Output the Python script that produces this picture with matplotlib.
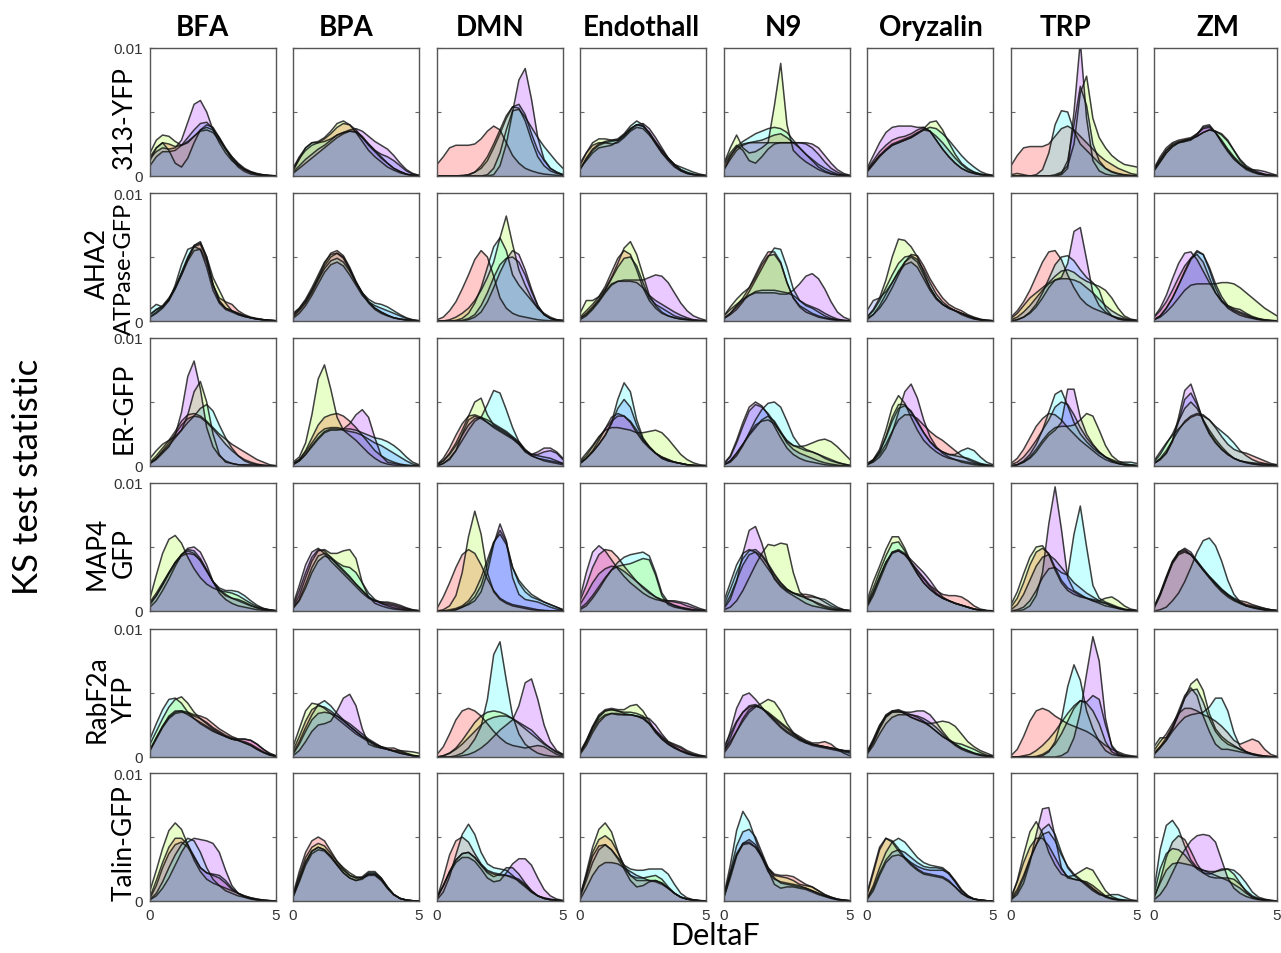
import numpy as np
import matplotlib
matplotlib.use("Agg")
import matplotlib.pyplot as plt

# density values (x 1e-3) at DeltaF = 0, 0.25, ..., 5 ; order per panel: red, green, cyan, purple, blue
xgrid = [0, 0.25, 0.5, 0.75, 1, 1.25, 1.5, 1.75, 2, 2.25, 2.5, 2.75, 3, 3.25, 3.5, 3.75, 4, 4.25, 4.5, 4.75, 5]

drugs = ["BFA", "BPA", "DMN", "Endothall", "N9", "Oryzalin", "TRP", "ZM"]
lines = [["313-YFP"], ["AHA2", "ATPase-GFP"], ["ER-GFP"], ["MAP4", "GFP"], ["RabF2a", "YFP"], ["Talin-GFP"]]

# ---- 313-YFP
yfp313_bfa = [
    [1.5,2.2,2.6,2.5,2.3,2.4,2.7,3.1,3.5,3.6,3.4,2.8,2.1,1.5,1.0,0.6,0.35,0.2,0.1,0.05,0.02],
    [1.8,2.8,3.2,3.1,2.7,2.4,2.6,3.1,3.6,3.8,3.6,3.0,2.2,1.5,0.9,0.5,0.25,0.12,0.06,0.03,0.01],
    [1.2,2.2,2.6,2.0,1.0,0.7,1.4,2.6,3.6,4.0,3.8,3.0,2.1,1.3,0.7,0.35,0.15,0.07,0.03,0.01,0],
    [1.4,1.9,2.2,2.1,2.2,2.8,4.2,5.6,5.9,5.0,3.6,2.6,1.8,1.2,0.8,0.5,0.3,0.15,0.08,0.03,0.01],
    [0.8,1.5,1.9,1.9,2.0,2.4,3.0,3.6,4.1,4.2,3.7,2.9,2.1,1.4,0.9,0.5,0.3,0.15,0.08,0.03,0.01]]
yfp313_bpa = [
    [0.5,1.4,2.0,2.4,2.6,2.9,3.3,3.8,4.1,4.0,3.6,3.0,2.4,1.9,1.4,1.0,0.6,0.35,0.15,0.05,0.02],
    [0.6,1.5,2.2,2.6,2.7,3.0,3.5,4.1,4.3,4.0,3.4,2.7,2.0,1.5,1.1,0.7,0.45,0.25,0.12,0.05,0.02],
    [0.4,1.3,2.2,2.6,2.6,2.7,2.9,3.2,3.4,3.5,3.4,3.0,2.5,2.0,1.5,1.0,0.6,0.35,0.15,0.05,0.02],
    [0.3,0.8,1.3,1.7,2.1,2.4,2.8,3.2,3.4,3.6,3.7,3.5,3.1,2.7,2.4,2.1,1.6,1.0,0.5,0.2,0.05],
    [0.2,0.6,1.0,1.4,1.8,2.2,2.6,3.0,3.3,3.5,3.5,3.1,2.5,2.0,1.7,1.5,1.2,0.8,0.4,0.15,0.05]]
yfp313_dmn = [
    [0.9,1.5,2.2,2.4,2.4,2.4,2.5,2.9,3.5,3.9,3.6,2.6,1.6,1.0,0.6,0.4,0.25,0.15,0.1,0.05,0.02],
    [0,0,0,0,0,0.1,0.3,0.8,1.5,2.5,3.6,4.7,5.4,5.3,4.3,2.8,1.5,0.8,0.4,0.2,0.1],
    [0,0,0,0,0,0,0,0,0.1,0.6,1.8,3.6,5.1,5.2,4.6,3.8,3.0,2.3,1.7,1.1,0.6],
    [0,0,0,0,0,0,0,0,0,0.1,0.8,2.5,5.0,7.5,8.4,6.0,3.0,1.3,0.6,0.3,0.1],
    [0,0,0,0,0.05,0.1,0.3,0.6,1.2,2.2,3.3,4.5,5.4,5.6,4.8,3.3,2.0,1.2,0.6,0.3,0.1]]
yfp313_endo = [
    [1.0,1.8,2.4,2.6,2.6,2.5,2.6,3.0,3.5,3.8,3.7,3.2,2.6,2.0,1.4,0.9,0.5,0.25,0.12,0.05,0.02],
    [0.8,1.8,2.6,2.9,2.9,2.8,2.8,3.2,3.7,4.0,3.9,3.4,2.6,1.8,1.2,0.7,0.4,0.2,0.1,0.05,0.02],
    [0.5,1.4,2.1,2.5,2.7,2.8,2.9,3.3,3.9,4.3,4.0,3.3,2.5,1.8,1.3,0.9,0.7,0.5,0.3,0.15,0.05],
    [0.6,1.2,1.8,2.2,2.3,2.4,2.7,3.1,3.6,4.0,4.1,3.7,3.0,2.2,1.4,0.8,0.4,0.2,0.1,0.05,0.02],
    [0.5,1.3,2.0,2.4,2.6,2.7,2.8,3.2,3.7,4.0,3.9,3.4,2.7,2.0,1.4,0.9,0.5,0.3,0.15,0.07,0.03]]
yfp313_n9 = [
    [0.8,1.6,2.2,2.5,2.6,2.7,2.8,3.0,3.2,3.3,3.0,2.6,2.2,1.7,1.2,0.7,0.4,0.2,0.1,0.05,0.02],
    [1.0,2.2,3.2,2.2,1.8,1.9,2.2,2.6,5.5,8.8,4.0,2.0,1.5,1.1,0.8,0.5,0.3,0.15,0.07,0.03,0.01],
    [0.5,1.5,2.3,2.7,3.0,3.3,3.5,3.7,3.8,3.7,3.4,2.8,2.2,1.7,1.3,0.9,0.6,0.35,0.15,0.05,0.02],
    [1.0,1.8,2.4,2.0,1.2,1.0,1.5,2.1,2.5,2.6,2.6,2.6,2.6,2.6,2.5,2.2,1.6,1.0,0.5,0.2,0.05],
    [0.5,1.3,2.0,2.4,2.6,2.6,2.6,2.6,2.6,2.6,2.6,2.6,2.6,2.5,2.2,1.7,1.1,0.6,0.3,0.1,0.03]]
yfp313_ory = [
    [0.5,1.2,1.9,2.4,2.8,3.0,3.1,3.3,3.6,3.8,3.5,2.8,2.1,1.5,1.0,0.6,0.35,0.2,0.1,0.05,0.02],
    [0.4,1.0,1.6,2.0,2.4,2.6,2.8,3.0,3.3,3.7,4.2,4.3,3.6,2.6,1.7,1.0,0.6,0.3,0.15,0.07,0.03],
    [0.3,0.9,1.5,2.0,2.4,2.6,2.8,3.0,3.3,3.6,3.8,3.7,3.3,2.8,2.2,1.6,1.1,0.7,0.35,0.15,0.05],
    [0.6,1.6,2.6,3.4,3.8,3.9,3.9,3.9,3.8,3.8,3.5,2.8,2.1,1.5,1.0,0.6,0.35,0.2,0.1,0.05,0.02],
    [0.4,1.0,1.6,2.1,2.5,2.7,2.9,3.1,3.4,3.6,3.5,3.1,2.6,2.0,1.4,0.9,0.5,0.3,0.15,0.07,0.03]]
yfp313_trp = [
    [0.8,1.6,2.2,2.3,2.3,2.3,2.5,3.1,3.7,3.9,3.6,3.1,2.6,2.1,1.6,1.2,0.9,0.6,0.4,0.2,0.1],
    [0.1,0.2,0.1,0,0,0,0,0.1,0.3,0.8,2.5,6.5,7.8,4.5,3.0,2.2,1.6,1.2,0.9,0.8,0.7],
    [0,0,0,0,0.1,0.5,1.8,4.0,5.1,5.0,3.5,2.5,2.0,1.5,1.0,0.6,0.35,0.2,0.1,0.05,0.02],
    [0,0,0,0,0,0,0,0,0.1,0.6,5.0,10.5,4.5,1.2,0.4,0.15,0.05,0.02,0,0,0],
    [0,0,0,0,0,0,0,0,0.2,1.2,4.0,7.0,5.5,2.5,1.2,0.6,0.3,0.15,0.07,0.03,0.01]]
yfp313_zm = [
    [0.6,1.5,2.2,2.6,2.8,2.9,3.0,3.3,3.7,3.8,3.4,2.8,2.1,1.5,1.0,0.6,0.35,0.2,0.1,0.05,0.02],
    [0.5,1.3,2.0,2.5,2.7,2.8,2.9,3.1,3.4,3.6,3.5,3.3,2.8,2.0,1.2,0.7,0.4,0.2,0.1,0.05,0.02],
    [0.5,1.3,2.0,2.4,2.6,2.8,2.9,3.1,3.4,3.6,3.5,3.2,2.7,2.0,1.3,0.8,0.5,0.3,0.15,0.07,0.03],
    [0.4,1.1,1.8,2.3,2.6,2.7,2.8,3.2,3.9,4.0,3.4,2.6,1.9,1.3,0.9,0.6,0.5,0.45,0.35,0.2,0.05],
    [0.4,1.1,1.8,2.3,2.6,2.7,2.9,3.3,3.8,3.9,3.4,2.7,2.0,1.4,0.9,0.5,0.3,0.15,0.07,0.03,0.01]]

# ---- AHA2 ATPase-GFP
aha2_bfa = [
    [0.3,0.6,1.0,1.6,2.5,3.6,4.8,5.8,6.0,4.8,2.8,1.8,1.5,1.3,0.8,0.5,0.3,0.2,0.1,0.05,0.02],
    [0.5,0.9,1.2,1.8,2.6,3.8,5.0,5.9,6.1,5.0,3.4,2.4,1.4,0.8,0.5,0.35,0.25,0.15,0.1,0.05,0.02],
    [0.9,1.3,1.1,1.6,2.8,4.4,5.6,5.8,5.6,4.2,2.4,1.4,0.9,0.7,0.5,0.35,0.25,0.15,0.1,0.05,0.02],
    [0.3,0.7,1.1,1.7,2.6,3.7,4.9,5.9,6.2,5.0,2.9,1.5,1.0,0.8,0.6,0.4,0.25,0.15,0.1,0.05,0.02],
    [0.5,0.9,1.1,1.7,2.6,3.6,4.7,5.5,5.6,4.6,2.8,1.6,1.0,0.8,0.6,0.4,0.25,0.15,0.1,0.05,0.02]]
aha2_bpa = [
    [0.4,0.9,1.5,2.4,3.4,4.5,5.3,5.5,5.1,4.2,3.1,2.2,1.5,1.0,0.7,0.45,0.25,0.15,0.08,0.03,0.01],
    [0.5,1.0,1.7,2.6,3.6,4.6,5.2,5.3,4.9,4.0,3.0,2.2,1.5,1.0,0.7,0.45,0.25,0.15,0.08,0.03,0.01],
    [0.3,0.8,1.4,2.2,3.2,4.1,4.7,4.9,4.6,3.9,3.0,2.2,1.7,1.4,1.3,1.1,0.8,0.5,0.25,0.1,0.03],
    [0.6,1.0,1.6,2.4,3.3,4.3,5.0,5.3,5.0,4.1,3.0,2.1,1.4,0.9,0.6,0.4,0.25,0.15,0.08,0.03,0.01],
    [0.2,0.6,1.2,2.0,2.9,3.8,4.4,4.6,4.3,3.6,2.8,2.0,1.5,1.2,1.0,0.8,0.6,0.4,0.2,0.08,0.02]]
aha2_dmn = [
    [0.1,0.3,0.8,1.5,2.5,3.6,4.8,5.5,5.0,3.5,1.8,1.0,0.6,0.4,0.3,0.2,0.1,0.05,0.02,0,0],
    [0,0,0.1,0.3,0.6,1.0,1.6,2.4,3.4,4.6,6.5,8.2,6.0,4.0,2.8,1.8,1.0,0.5,0.2,0.1,0.05],
    [0,0,0,0.05,0.2,0.6,1.4,2.6,4.2,5.8,6.5,5.5,3.6,2.8,2.2,1.6,1.0,0.6,0.3,0.1,0.05],
    [0,0,0,0,0,0.1,0.3,0.7,1.5,2.6,3.8,4.8,5.5,5.2,4.0,2.5,1.2,0.5,0.2,0.05,0],
    [0,0,0,0,0.05,0.2,0.5,1.2,2.2,3.4,4.4,4.9,5.0,4.6,3.6,2.3,1.2,0.5,0.2,0.05,0]]
aha2_endo = [
    [0.3,0.8,1.3,1.9,2.7,3.8,4.9,5.5,5.2,4.0,2.6,1.6,1.0,0.6,0.4,0.25,0.15,0.1,0.05,0.02,0],
    [0.6,1.6,1.6,1.9,2.5,3.4,4.5,5.7,6.2,5.2,3.6,2.0,1.2,0.7,0.4,0.25,0.15,0.1,0.05,0.02,0],
    [0.2,0.6,1.1,1.7,2.4,3.3,4.2,4.9,5.0,4.3,3.0,1.8,1.3,1.0,0.7,0.4,0.25,0.15,0.07,0.03,0],
    [0.1,0.4,0.9,1.5,2.2,2.8,3.1,3.2,3.2,3.2,3.2,3.4,3.6,3.5,3.0,2.2,1.4,0.8,0.4,0.2,0.05],
    [0.2,0.5,1.0,1.6,2.3,2.9,3.1,3.1,3.1,3.0,2.6,2.0,1.6,1.3,1.0,0.7,0.45,0.25,0.1,0.05,0.02]]
aha2_n9 = [
    [0.2,0.6,1.2,1.8,2.6,3.6,4.6,5.4,5.4,4.6,3.0,1.8,1.2,0.9,0.6,0.4,0.25,0.15,0.08,0.03,0.01],
    [0.4,1.1,1.7,2.2,2.6,3.4,4.4,5.1,5.2,4.5,3.0,1.8,1.1,0.7,0.5,0.3,0.2,0.1,0.05,0.02,0.01],
    [0.2,0.5,0.9,1.5,2.3,3.2,4.1,5.0,5.7,5.6,4.2,2.5,1.6,1.2,1.0,0.7,0.4,0.2,0.1,0.05,0.02],
    [0.4,0.9,1.3,1.7,2.0,2.2,2.2,2.2,2.2,2.1,2.1,2.4,2.9,3.5,3.7,3.3,2.5,1.5,0.7,0.3,0.1],
    [0.2,0.6,1.1,1.6,2.0,2.3,2.4,2.4,2.4,2.3,2.2,2.0,1.6,1.3,1.1,0.9,0.6,0.35,0.15,0.05,0.02]]
aha2_ory = [
    [0.2,0.5,1.0,1.7,2.6,3.6,4.6,5.2,5.1,4.3,3.3,2.5,1.8,1.3,1.0,0.8,0.5,0.3,0.15,0.05,0.02],
    [0.3,0.9,1.8,3.2,5.0,6.4,6.3,5.8,5.0,3.8,2.6,1.8,1.3,1.0,0.8,0.6,0.4,0.25,0.1,0.05,0.02],
    [0.3,0.8,1.6,2.6,3.6,4.5,5.0,5.1,4.8,4.0,3.0,2.1,1.5,1.1,0.8,0.6,0.4,0.2,0.1,0.05,0.02],
    [0.1,0.5,1.2,2.1,3.0,3.9,4.6,5.0,4.6,3.6,2.6,1.8,1.3,1.0,0.8,0.6,0.4,0.2,0.1,0.05,0.02],
    [0.8,1.6,1.8,2.3,3.0,3.8,4.4,4.6,4.2,3.3,2.4,1.7,1.3,1.0,0.8,0.5,0.3,0.15,0.07,0.03,0.01]]
aha2_trp = [
    [0.3,0.8,1.5,2.4,3.5,4.6,5.4,5.5,4.8,3.6,2.6,1.8,1.3,1.0,0.8,0.6,0.4,0.25,0.15,0.05,0.02],
    [0.2,0.6,1.2,1.8,2.2,2.6,3.0,3.5,3.9,4.0,3.8,3.4,3.1,2.9,2.7,2.4,1.8,1.0,0.4,0.15,0.05],
    [0,0.1,0.3,0.7,1.3,2.2,3.3,4.4,5.0,5.1,4.7,4.0,3.4,3.0,2.4,1.0,0.4,0.15,0.05,0.02,0],
    [0,0.1,0.3,0.6,1.1,1.8,2.6,3.2,3.4,4.5,7.0,7.3,4.8,2.2,1.2,0.7,0.4,0.2,0.1,0.05,0.02],
    [0.1,0.3,0.7,1.2,1.8,2.4,2.9,3.2,3.3,3.3,3.2,3.0,2.6,2.2,1.7,1.2,0.8,0.5,0.25,0.1,0.05]]
aha2_zm = [
    [0.3,0.8,1.5,2.4,3.4,4.3,4.9,5.2,4.6,3.4,2.2,1.5,1.1,0.8,0.6,0.4,0.25,0.15,0.07,0.03,0.01],
    [0.1,0.3,0.7,1.2,1.8,2.4,2.8,2.9,2.9,2.9,2.9,3.0,3.0,2.9,2.6,2.2,1.8,1.4,1.0,0.7,0.4],
    [0.1,0.4,1.0,1.8,2.8,3.9,4.9,5.5,5.2,4.0,2.6,1.6,1.0,0.7,0.45,0.3,0.2,0.1,0.05,0.02,0],
    [0.3,1.0,2.0,3.3,4.5,5.3,5.4,4.8,3.9,3.0,2.2,1.6,1.2,1.0,0.9,0.6,0.35,0.2,0.1,0.05,0.02],
    [0.1,0.4,1.0,1.8,2.8,3.8,4.8,5.4,5.2,4.2,2.9,1.9,1.2,0.9,0.7,0.5,0.3,0.15,0.07,0.03,0.01]]

# ---- ER-GFP
er_bfa = [
    [0.3,0.8,1.4,2.0,2.7,3.5,4.0,4.1,3.9,3.5,3.0,2.5,2.1,1.7,1.4,1.1,0.8,0.5,0.3,0.1,0.03],
    [0.6,1.2,1.7,2.0,2.3,2.8,4.0,5.8,6.6,5.0,2.5,0.9,0.3,0.2,0.1,0.05,0.02,0,0,0,0],
    [0.2,0.6,1.1,1.6,2.2,2.8,3.4,3.9,4.5,4.8,4.3,3.2,2.2,1.4,0.8,0.4,0.2,0.1,0.05,0.02,0],
    [0.2,0.5,1.0,1.5,2.4,4.2,7.0,8.2,6.0,3.0,1.5,0.8,0.4,0.2,0.1,0.1,0.1,0.05,0.02,0,0],
    [0.2,0.6,1.2,1.8,2.5,3.2,3.7,3.9,3.8,3.4,2.9,2.3,1.7,1.2,0.8,0.5,0.3,0.15,0.07,0.03,0.01]]
er_bpa = [
    [0.2,0.5,1.2,2.2,3.2,3.8,4.0,4.1,3.9,3.5,3.0,2.4,1.8,1.2,0.8,0.5,0.3,0.15,0.07,0.03,0.01],
    [0.3,0.7,1.8,4.0,6.8,7.9,6.0,3.8,2.8,2.4,2.0,1.5,1.0,0.6,0.3,0.15,0.07,0.03,0.01,0,0],
    [0.2,0.5,1.1,1.8,2.5,2.9,3.0,3.0,2.9,2.9,2.8,2.6,2.4,2.2,2.1,1.9,1.6,1.2,0.7,0.3,0.1],
    [0.1,0.4,0.9,1.5,2.1,2.6,2.8,2.8,2.9,3.3,4.0,4.4,3.8,2.2,0.8,0.3,0.2,0.1,0.05,0.02,0],
    [0.1,0.4,0.9,1.6,2.2,2.7,2.9,2.9,2.8,2.7,2.6,2.4,2.1,1.8,1.6,1.3,1.0,0.7,0.4,0.15,0.05]]
er_dmn = [
    [0.1,0.6,1.4,2.4,3.3,3.9,4.0,3.8,3.4,3.0,2.7,2.4,2.1,1.7,1.2,0.8,0.6,0.5,0.4,0.3,0.2],
    [0.1,0.4,1.0,1.8,2.8,3.9,5.0,5.3,4.0,3.2,2.9,2.6,2.2,1.7,1.1,0.8,0.6,0.4,0.3,0.2,0.1],
    [0,0.2,0.6,1.2,2.0,2.8,3.5,3.8,4.8,5.9,5.7,4.4,3.0,1.9,1.2,0.9,0.8,0.7,0.6,0.4,0.2],
    [0,0.2,0.5,1.2,2.5,3.6,3.9,3.7,3.4,3.1,2.8,2.5,2.2,1.8,1.2,0.9,1.1,1.4,1.4,1.1,0.6],
    [0.1,0.4,0.9,1.6,2.4,3.2,3.7,3.8,3.6,3.3,3.0,2.7,2.3,1.9,1.3,0.9,0.9,1.1,1.2,1.0,0.5]]
er_endo = [
    [0.3,0.8,1.5,2.2,2.9,3.5,3.9,3.9,3.5,2.8,2.0,1.5,1.0,0.7,0.5,0.3,0.2,0.1,0.05,0.02,0],
    [0.4,1.0,1.6,2.3,2.8,3.0,3.0,2.9,2.8,2.6,2.6,2.7,2.8,2.6,2.1,1.5,0.9,0.5,0.25,0.1,0.05],
    [0.2,0.6,1.1,1.7,2.4,3.4,5.2,6.5,5.8,3.6,2.2,1.5,1.0,0.6,0.4,0.3,0.2,0.1,0.05,0.02,0],
    [0.2,0.6,1.2,2.0,2.9,3.8,4.1,3.9,3.4,2.6,1.9,1.4,1.0,0.7,0.5,0.3,0.2,0.1,0.05,0.02,0],
    [0.2,0.6,1.1,1.7,2.4,3.3,4.5,5.2,4.6,3.2,2.1,1.5,1.0,0.6,0.4,0.3,0.2,0.1,0.05,0.02,0]]
er_n9 = [
    [0.1,0.4,1.0,1.7,2.5,3.2,3.5,3.6,3.3,2.6,2.0,1.6,1.4,1.2,1.1,0.9,0.6,0.4,0.25,0.15,0.05],
    [0.1,0.4,1.0,1.7,2.4,3.0,3.6,3.9,3.5,2.7,1.9,1.6,1.5,1.6,1.8,2.0,2.1,1.9,1.5,1.0,0.5],
    [0.1,0.3,0.8,1.6,2.6,3.6,4.4,4.9,5.0,4.6,3.5,2.3,1.6,1.3,1.1,0.9,0.7,0.5,0.3,0.15,0.05],
    [0.2,0.8,2.0,3.4,4.6,5.0,4.7,4.0,3.1,2.2,1.4,0.9,0.6,0.4,0.3,0.2,0.1,0.05,0.02,0,0],
    [0.2,0.7,1.8,3.1,4.3,4.8,4.6,4.1,3.4,2.6,1.8,1.3,1.0,0.8,0.6,0.4,0.25,0.15,0.07,0.03,0.01]]
er_ory = [
    [0.1,0.4,0.9,1.7,2.7,3.6,4.0,4.0,3.7,3.2,2.7,2.3,2.0,1.6,1.2,0.8,0.5,0.3,0.15,0.05,0.02],
    [0.1,0.5,1.3,2.8,4.6,5.5,4.9,3.8,2.8,2.0,1.5,1.1,0.8,0.6,0.5,0.4,0.3,0.2,0.1,0.05,0.02],
    [0.1,0.4,1.1,2.3,3.8,4.8,4.8,4.2,3.4,2.6,1.9,1.4,1.1,0.9,0.9,1.2,1.4,1.2,0.7,0.3,0.1],
    [0.1,0.3,0.7,1.4,2.6,4.2,5.8,6.4,5.3,3.6,2.3,1.5,1.0,0.7,0.5,0.3,0.2,0.1,0.05,0.02,0],
    [0.2,0.5,1.1,2.2,3.5,4.5,4.7,4.3,3.5,2.6,1.9,1.4,1.1,0.9,0.8,0.7,0.6,0.4,0.2,0.1,0.03]]
er_trp = [
    [0.2,0.6,1.3,2.2,3.1,3.7,4.1,4.0,3.6,3.0,2.5,2.0,1.6,1.2,0.8,0.5,0.3,0.2,0.1,0.05,0.02],
    [0,0.1,0.3,0.7,1.3,2.0,2.6,3.0,3.1,3.1,3.2,3.6,4.1,3.9,2.8,1.6,0.8,0.4,0.2,0.1,0.05],
    [0,0.1,0.4,0.9,1.7,2.8,4.2,5.6,5.9,4.7,3.4,2.5,1.9,1.4,1.0,0.7,0.5,0.3,0.3,0.3,0.2],
    [0,0.1,0.3,0.6,1.1,1.8,2.4,2.8,3.4,6.0,6.0,3.8,2.5,1.7,1.1,0.7,0.4,0.2,0.1,0.05,0.02],
    [0.1,0.3,0.7,1.3,2.0,2.8,3.6,4.6,5.0,4.8,4.0,3.0,2.2,1.6,1.1,0.7,0.4,0.2,0.1,0.05,0.02]]
er_zm = [
    [0.2,0.6,1.2,2.0,2.8,3.5,3.9,4.1,4.0,3.6,3.0,2.3,1.7,1.3,1.1,1.0,0.8,0.6,0.4,0.2,0.1],
    [0.3,0.9,1.7,2.5,3.5,4.5,5.0,4.5,3.6,2.8,2.1,1.5,1.0,0.6,0.4,0.25,0.15,0.1,0.05,0.02,0],
    [0.4,1.1,1.8,2.4,2.9,3.4,3.8,4.0,3.9,3.6,3.1,2.7,2.3,1.8,1.2,0.8,0.5,0.3,0.2,0.1,0.05],
    [0.2,0.5,1.0,2.0,3.8,5.9,6.4,5.0,3.5,2.5,1.8,1.3,0.9,0.6,0.4,0.3,0.25,0.2,0.15,0.1,0.05],
    [0.2,0.5,1.0,1.9,3.5,5.2,5.7,4.8,3.6,2.6,1.9,1.3,0.9,0.6,0.4,0.3,0.2,0.1,0.05,0.02,0]]

# ---- MAP4 GFP
map4_bfa = [
    [0.7,1.4,2.2,3.0,3.8,4.4,4.7,4.5,3.9,3.1,2.3,1.7,1.3,1.0,0.8,0.6,0.4,0.25,0.15,0.07,0.02],
    [1.0,2.8,4.5,5.6,5.9,5.3,4.2,3.3,2.6,2.1,1.8,1.6,1.5,1.4,1.2,0.9,0.6,0.35,0.2,0.1,0.03],
    [0.5,1.2,2.1,3.0,3.8,4.4,4.8,4.7,4.1,3.2,2.3,1.8,1.6,1.6,1.5,1.2,0.8,0.45,0.2,0.08,0.02],
    [0.3,0.8,1.6,2.5,3.5,4.4,4.9,5.0,4.6,3.6,2.3,1.4,0.9,0.6,0.4,0.3,0.2,0.1,0.05,0.02,0],
    [0.6,1.2,2.0,2.9,3.7,4.3,4.5,4.4,4.0,3.2,2.3,1.6,1.2,1.0,0.9,0.7,0.45,0.25,0.1,0.05,0.02]]
map4_bpa = [
    [0.4,1.6,3.0,4.2,4.8,4.7,4.2,3.6,3.1,2.6,2.1,1.6,1.1,0.8,0.7,0.6,0.5,0.35,0.2,0.07,0.02],
    [0.3,1.2,2.6,3.9,4.7,4.8,4.5,4.5,4.7,4.8,4.1,2.2,1.1,0.6,0.4,0.25,0.15,0.1,0.05,0.02,0],
    [0.2,0.9,2.1,3.4,4.3,4.5,4.2,3.8,3.5,3.4,3.0,2.2,1.4,0.9,0.6,0.4,0.25,0.15,0.07,0.03,0],
    [0.5,2.0,3.6,4.6,4.9,4.5,3.9,3.4,2.9,2.4,1.9,1.4,1.0,0.8,0.7,0.7,0.6,0.45,0.25,0.1,0.03],
    [0.2,0.8,1.8,3.0,3.9,4.3,4.1,3.7,3.2,2.7,2.1,1.6,1.1,0.8,0.6,0.5,0.4,0.25,0.15,0.05,0.02]]
map4_dmn = [
    [0.2,1.1,2.2,3.4,4.4,4.8,4.5,3.6,2.5,1.6,1.0,0.7,0.5,0.4,0.3,0.2,0.1,0.05,0.02,0,0],
    [0,0.1,0.4,1.2,3.0,5.8,7.8,6.0,3.0,1.5,0.9,0.6,0.4,0.3,0.2,0.1,0.05,0.02,0,0,0],
    [0,0,0.1,0.2,0.4,0.8,1.5,2.6,4.0,5.4,6.0,5.2,3.4,2.4,1.8,1.3,1.0,0.7,0.5,0.3,0.1],
    [0,0,0,0.1,0.3,0.5,0.8,1.5,3.0,5.2,6.8,5.5,2.6,1.3,0.9,0.8,0.7,0.5,0.3,0.15,0.05],
    [0,0,0,0.1,0.3,0.6,1.1,2.0,3.6,5.3,6.3,5.4,3.4,2.2,1.5,1.1,0.9,0.7,0.5,0.3,0.1]]
map4_endo = [
    [0.8,2.0,3.4,4.4,4.8,4.7,4.2,3.5,2.9,2.3,1.8,1.4,1.1,0.9,0.8,0.7,0.6,0.4,0.25,0.1,0.03],
    [0.2,0.6,1.2,1.9,2.6,3.2,3.5,3.6,3.7,3.9,4.1,4.0,2.8,1.2,0.5,0.3,0.2,0.1,0.05,0.02,0],
    [0.1,0.4,1.0,1.7,2.5,3.2,3.8,4.2,4.4,4.5,4.6,4.3,3.0,1.4,0.7,0.4,0.25,0.15,0.07,0.03,0],
    [1.0,3.0,4.6,5.1,4.7,4.0,3.3,2.7,2.2,1.8,1.4,1.1,0.9,0.8,0.8,0.8,0.7,0.6,0.4,0.2,0.05],
    [0.5,1.3,2.2,2.9,3.3,3.5,3.4,3.1,2.7,2.3,1.9,1.5,1.1,0.8,0.6,0.45,0.3,0.2,0.1,0.05,0.02]]
map4_n9 = [
    [0.3,1.2,2.4,3.6,4.4,4.6,4.3,3.6,2.8,2.2,1.7,1.4,1.3,1.3,1.2,1.0,0.7,0.4,0.2,0.1,0.05],
    [0.1,0.3,0.8,1.6,2.6,3.6,4.5,5.2,5.1,5.3,5.2,3.0,1.5,1.0,0.8,0.6,0.4,0.25,0.12,0.05,0.02],
    [0.8,2.2,3.6,4.5,4.8,4.6,4.0,3.3,2.6,2.0,1.6,1.4,1.2,1.1,1.1,1.0,0.9,0.6,0.3,0.1,0.03],
    [0.2,0.9,2.3,4.5,6.3,6.6,5.3,3.6,2.5,1.9,1.5,1.2,0.9,0.6,0.4,0.3,0.2,0.1,0.05,0.02,0],
    [0.5,1.7,3.0,4.1,4.7,4.8,4.4,3.7,2.9,2.2,1.7,1.4,1.2,1.0,0.8,0.5,0.3,0.15,0.07,0.03,0.01]]
map4_ory = [
    [0.5,1.5,2.7,3.8,4.5,4.7,4.4,3.8,3.2,2.6,2.0,1.6,1.3,1.2,1.2,1.1,0.8,0.4,0.15,0.05,0.02],
    [0.8,2.3,3.5,4.8,5.8,5.8,4.9,3.8,2.9,2.2,1.7,1.3,1.0,0.8,0.6,0.45,0.3,0.15,0.07,0.02,0],
    [0.6,1.8,3.1,4.3,5.3,5.4,4.7,3.7,2.9,2.2,1.7,1.3,1.0,0.8,0.6,0.45,0.3,0.15,0.07,0.02,0],
    [0.3,1.2,2.4,3.6,4.6,4.8,4.5,4.0,3.5,3.0,2.4,1.7,1.1,0.8,0.6,0.45,0.3,0.15,0.07,0.02,0],
    [0.4,1.4,2.6,3.8,4.6,4.7,4.4,3.8,3.1,2.5,1.9,1.4,1.0,0.8,0.6,0.45,0.3,0.15,0.07,0.02,0]]
map4_trp = [
    [0.3,1.0,2.2,3.6,4.6,4.9,4.5,3.4,2.4,1.8,1.5,1.2,1.0,0.8,0.7,0.6,0.4,0.25,0.12,0.05,0.02],
    [0.5,1.5,2.9,4.2,5.0,5.1,4.4,3.2,2.2,1.6,1.3,1.1,1.0,0.9,0.8,1.0,1.1,0.8,0.4,0.15,0.05],
    [0,0.1,0.3,0.8,1.6,2.6,3.3,3.4,3.0,2.8,6.0,8.2,5.0,2.0,1.0,0.7,0.5,0.3,0.15,0.07,0.02],
    [0,0,0.1,0.4,1.2,3.0,6.8,9.7,6.4,2.6,1.6,1.3,1.0,0.8,0.6,0.4,0.3,0.2,0.1,0.05,0.02],
    [0.1,0.5,1.3,2.4,3.5,4.2,4.4,4.0,3.4,2.8,2.2,1.8,1.4,1.1,0.8,0.6,0.4,0.2,0.1,0.05,0.02]]
map4_zm = [
    [0.2,1.2,2.5,3.8,4.6,4.8,4.4,3.8,3.2,2.7,2.2,1.7,1.3,1.0,0.8,0.7,0.5,0.35,0.2,0.1,0.05],
    [0.3,1.3,2.6,3.8,4.5,4.7,4.4,3.8,3.2,2.6,2.1,1.6,1.2,0.9,0.7,0.5,0.4,0.3,0.2,0.1,0.05],
    [0,0.1,0.3,0.8,1.4,2.3,3.4,4.6,5.5,5.7,5.1,3.9,2.4,1.3,0.7,0.4,0.25,0.15,0.07,0.03,0.01],
    [0.3,1.4,2.7,3.9,4.6,4.9,4.6,3.9,3.2,2.6,2.0,1.5,1.1,0.8,0.6,0.4,0.3,0.2,0.1,0.05,0.02],
    [0.3,1.3,2.5,3.7,4.4,4.6,4.4,3.9,3.3,2.7,2.2,1.7,1.3,0.9,0.6,0.4,0.3,0.2,0.1,0.05,0.02]]

# ---- RabF2a YFP
rab_bfa = [
    [0.6,1.5,2.4,3.1,3.5,3.6,3.5,3.3,3.2,3.0,2.6,2.2,1.9,1.6,1.4,1.4,1.3,1.0,0.6,0.3,0.1],
    [1.0,2.0,3.0,3.9,4.5,4.7,4.2,3.5,3.0,2.6,2.2,1.9,1.6,1.4,1.3,1.2,1.0,0.7,0.4,0.2,0.05],
    [1.4,2.6,3.7,4.5,4.6,4.2,3.5,3.0,2.6,2.3,2.0,1.8,1.6,1.4,1.3,1.1,0.9,0.6,0.35,0.15,0.05],
    [0.5,1.4,2.3,3.0,3.4,3.5,3.4,3.2,3.0,2.7,2.3,2.0,1.7,1.5,1.4,1.4,1.3,1.0,0.6,0.25,0.08],
    [0.5,1.5,2.4,3.2,3.6,3.6,3.3,3.0,2.7,2.4,2.1,1.8,1.6,1.4,1.3,1.1,0.9,0.6,0.35,0.15,0.05]]
rab_bpa = [
    [0.5,1.6,2.8,3.7,4.0,3.9,3.6,3.2,2.8,2.4,2.0,1.6,1.3,1.0,0.8,0.7,0.7,0.5,0.3,0.15,0.05],
    [0.8,2.2,3.6,4.2,4.1,3.8,3.4,3.0,2.6,2.2,1.8,1.5,1.2,0.9,0.7,0.6,0.5,0.5,0.45,0.4,0.3],
    [0.3,1.2,2.3,3.3,4.1,4.4,4.0,3.4,2.9,2.4,2.0,1.6,1.3,1.0,0.8,0.6,0.45,0.3,0.2,0.1,0.05],
    [0.1,0.5,1.2,2.0,2.5,2.6,2.8,3.6,4.6,4.9,4.0,2.2,1.0,0.8,0.7,0.6,0.5,0.4,0.25,0.1,0.05],
    [0.2,1.0,2.0,2.9,3.4,3.5,3.4,3.2,2.9,2.6,2.2,1.8,1.4,1.1,0.8,0.6,0.45,0.3,0.2,0.1,0.05]]
rab_dmn = [
    [0.2,0.8,1.8,2.9,3.6,3.8,3.6,3.2,2.6,2.0,1.5,1.1,0.9,0.8,0.7,0.8,0.9,0.8,0.5,0.2,0.05],
    [0,0.1,0.3,0.7,1.3,2.0,2.7,3.2,3.5,3.6,3.5,3.3,3.0,2.6,2.2,1.8,1.4,1.0,0.7,0.4,0.2],
    [0,0,0,0.1,0.3,0.7,1.4,2.4,4.5,8.0,9.0,6.0,3.2,1.8,1.0,0.6,0.3,0.15,0.07,0.03,0],
    [0,0,0,0,0.1,0.2,0.4,0.7,1.1,1.6,2.1,2.5,2.9,4.0,5.8,6.1,4.5,2.5,1.2,0.5,0.2],
    [0,0.1,0.3,0.6,1.0,1.5,2.0,2.5,2.9,3.1,3.2,3.2,3.0,2.7,2.4,2.1,1.6,1.1,0.7,0.35,0.15]]
rab_endo = [
    [0.3,1.2,2.3,3.1,3.6,3.7,3.6,3.4,3.3,3.2,3.0,2.6,2.1,1.6,1.2,1.0,0.8,0.5,0.3,0.15,0.05],
    [0.4,1.3,2.4,3.3,3.7,3.8,3.7,3.7,4.0,4.1,3.6,2.8,2.0,1.4,1.0,0.7,0.5,0.3,0.15,0.07,0.02],
    [0.3,1.2,2.3,3.2,3.6,3.7,3.6,3.5,3.5,3.4,3.2,2.6,1.9,1.4,1.0,0.7,0.45,0.25,0.12,0.05,0.02],
    [0.3,1.1,2.1,2.9,3.3,3.4,3.3,3.3,3.3,3.2,3.1,3.0,2.5,1.8,1.2,0.9,0.7,0.4,0.2,0.1,0.03],
    [0.2,0.9,1.9,2.7,3.2,3.4,3.4,3.3,3.3,3.2,3.0,2.6,2.0,1.5,1.1,0.8,0.5,0.3,0.15,0.07,0.02]]
rab_n9 = [
    [0.4,1.5,2.7,3.5,4.0,4.1,3.8,3.5,3.1,2.7,2.3,1.9,1.6,1.3,1.1,1.1,1.2,1.0,0.6,0.3,0.1],
    [0.5,1.2,2.0,2.8,3.5,3.9,4.2,4.5,4.3,3.6,2.6,1.9,1.4,1.1,0.9,0.8,0.7,0.6,0.5,0.4,0.3],
    [0.3,1.0,2.0,3.0,3.7,4.0,3.8,3.4,2.9,2.4,2.0,1.7,1.4,1.2,1.0,0.9,0.8,0.7,0.6,0.5,0.4],
    [0.5,2.0,3.8,4.8,5.0,4.5,3.9,3.3,2.8,2.3,1.9,1.6,1.3,1.1,1.0,0.9,0.8,0.7,0.6,0.5,0.4],
    [0.8,1.8,2.8,3.5,3.9,4.0,3.8,3.4,3.0,2.6,2.2,1.8,1.5,1.2,1.0,0.9,0.8,0.7,0.6,0.5,0.5]]
rab_ory = [
    [0.3,1.2,2.3,3.2,3.6,3.7,3.5,3.3,3.1,2.8,2.4,2.0,1.6,1.3,1.0,0.7,0.5,0.3,0.2,0.1,0.05],
    [0.4,1.3,2.4,3.3,3.6,3.6,3.4,3.1,2.9,2.7,2.6,2.7,2.8,2.7,2.4,1.8,1.2,0.8,0.5,0.3,0.1],
    [0.3,1.1,2.2,3.1,3.5,3.6,3.4,3.1,2.9,2.7,2.4,2.0,1.6,1.3,1.1,1.0,0.8,0.6,0.35,0.15,0.05],
    [0.4,1.4,2.5,3.2,3.5,3.5,3.5,3.5,3.6,3.6,3.3,2.7,2.0,1.4,1.0,0.7,0.5,0.3,0.15,0.07,0.02],
    [0.2,0.9,1.8,2.6,3.1,3.3,3.3,3.3,3.2,3.0,2.7,2.3,1.8,1.3,0.9,0.6,0.4,0.25,0.12,0.05,0.02]]
rab_trp = [
    [0.1,0.6,1.6,2.8,3.6,3.8,3.6,3.2,2.9,2.6,2.4,2.2,2.0,1.7,1.3,0.9,0.6,0.4,0.2,0.1,0.05],
    [0,0,0.1,0.2,0.5,0.9,1.4,2.0,2.7,3.4,4.0,4.4,4.2,3.6,2.6,1.2,0.4,0.15,0.05,0.02,0],
    [0,0,0,0,0,0.1,0.4,1.2,2.9,5.5,7.2,6.0,3.6,2.2,1.2,0.5,0.2,0.1,0.05,0.02,0],
    [0,0,0,0,0,0,0,0,0.1,0.4,1.5,3.5,6.5,9.4,7.5,3.0,0.8,0.2,0.05,0,0],
    [0,0,0,0,0.05,0.2,0.5,1.0,1.8,2.8,3.8,4.4,4.3,4.8,4.5,2.5,0.9,0.3,0.1,0.05,0]]
rab_zm = [
    [0.5,1.2,1.8,2.6,3.4,3.8,3.8,3.6,3.3,3.1,2.8,2.4,1.9,1.3,1.0,1.2,1.4,1.2,0.6,0.2,0.05],
    [0.8,1.5,1.5,2.2,3.3,4.6,5.7,6.1,5.2,3.4,2.2,1.6,1.2,0.9,0.6,0.4,0.25,0.15,0.07,0.03,0],
    [0.3,0.8,1.3,2.0,2.6,3.1,3.3,3.4,3.5,3.9,4.6,4.6,3.6,1.9,0.8,0.4,0.2,0.1,0.05,0.02,0],
    [0.2,0.8,1.5,2.4,3.6,4.8,5.4,4.8,3.2,2.0,1.0,0.6,0.6,0.5,0.4,0.3,0.2,0.1,0.05,0.02,0],
    [0.2,0.7,1.3,2.2,3.4,4.6,5.2,5.3,4.3,3.0,2.0,1.4,1.0,0.8,0.6,0.4,0.25,0.15,0.07,0.03,0]]

# ---- Talin-GFP
talin_bfa = [
    [0.3,1.6,3.0,4.2,4.9,4.9,4.4,3.5,2.6,2.2,2.0,1.8,1.4,0.9,0.6,0.4,0.25,0.15,0.07,0.03,0],
    [0.8,2.4,4.1,5.5,6.1,5.6,4.4,3.2,2.3,1.7,1.4,1.2,1.0,0.8,0.6,0.4,0.25,0.15,0.07,0.03,0],
    [0.1,0.6,1.5,2.6,3.6,4.4,4.9,4.7,3.8,2.6,1.7,1.2,0.8,0.6,0.4,0.3,0.2,0.1,0.05,0.02,0],
    [0.1,0.4,1.0,1.8,2.8,3.8,4.6,4.9,4.8,4.7,4.5,3.8,2.4,1.2,0.6,0.3,0.15,0.07,0.03,0.01,0],
    [0.2,1.2,2.6,3.7,4.4,4.6,4.2,3.4,2.6,2.2,2.1,2.0,1.6,1.0,0.6,0.35,0.2,0.1,0.05,0.02,0]]
talin_bpa = [
    [0.5,2.3,3.8,4.7,5.0,4.7,3.9,3.1,2.5,2.0,1.8,1.8,2.1,2.1,1.7,1.0,0.5,0.2,0.07,0.02,0],
    [0.4,2.0,3.4,4.2,4.5,4.3,3.7,3.1,2.6,2.2,1.9,1.8,2.0,2.0,1.6,1.0,0.5,0.2,0.07,0.02,0],
    [0.3,1.6,3.0,3.9,4.2,4.0,3.5,2.9,2.4,2.0,1.8,1.9,2.3,2.3,1.8,1.1,0.5,0.2,0.07,0.02,0],
    [0.3,1.5,2.8,3.7,4.0,3.9,3.4,2.8,2.2,1.8,1.6,1.7,2.1,2.1,1.7,1.0,0.5,0.2,0.07,0.02,0],
    [0.4,1.8,3.1,3.9,4.2,4.0,3.5,2.8,2.2,1.8,1.6,1.8,2.2,2.2,1.8,1.1,0.5,0.2,0.07,0.02,0]]
talin_dmn = [
    [0.2,1.8,3.6,4.7,5.0,4.6,3.7,2.9,2.4,2.2,2.1,2.0,1.8,1.6,1.2,0.7,0.4,0.2,0.1,0.05,0],
    [0.3,1.2,2.3,3.2,3.7,3.8,3.4,2.8,2.3,2.1,2.0,2.0,1.9,1.7,1.3,0.8,0.4,0.2,0.1,0.05,0],
    [0.1,0.7,1.9,3.6,5.2,6.0,5.2,3.8,2.9,2.6,2.5,2.4,2.0,1.5,1.1,0.7,0.4,0.25,0.15,0.07,0.02],
    [0.3,1.2,2.2,3.0,3.4,3.4,3.1,2.5,1.8,1.5,1.6,2.2,2.9,3.3,3.3,2.8,1.8,0.9,0.4,0.15,0.05],
    [0.2,1.2,2.3,3.2,3.7,3.8,3.4,2.8,2.2,1.9,2.1,2.6,2.6,2.1,1.4,0.8,0.4,0.2,0.1,0.05,0]]
talin_endo = [
    [0.4,2.0,3.8,4.8,5.1,4.7,3.8,2.8,2.0,1.6,1.6,1.6,1.6,1.4,1.0,0.6,0.3,0.15,0.07,0.02,0],
    [0.3,2.2,4.2,5.6,6.1,5.4,3.9,2.6,2.0,1.8,1.8,1.9,2.0,1.7,1.1,0.6,0.3,0.15,0.07,0.02,0],
    [0.3,1.6,3.0,4.0,4.4,4.0,3.4,2.8,2.5,2.4,2.4,2.5,2.5,2.5,2.1,1.3,0.6,0.25,0.1,0.05,0],
    [0.4,1.9,3.5,4.3,4.4,4.0,3.3,2.5,1.6,1.1,1.2,1.5,1.6,1.4,1.0,0.6,0.3,0.15,0.07,0.02,0],
    [0.1,1.0,2.0,2.7,3.0,3.0,2.9,2.6,2.3,2.0,1.8,1.6,1.5,1.3,1.0,0.6,0.3,0.15,0.07,0.02,0]]
talin_n9 = [
    [0.3,2.0,3.6,4.4,4.5,4.2,3.5,2.6,2.1,2.0,2.0,1.9,1.6,1.3,1.1,0.8,0.5,0.3,0.15,0.07,0.02],
    [0.4,2.2,3.7,4.5,4.6,4.2,3.4,2.5,2.0,1.9,1.8,1.6,1.3,1.2,1.1,0.8,0.5,0.3,0.15,0.07,0.02],
    [0.5,2.8,5.5,7.0,6.2,4.8,3.4,2.3,1.7,1.5,1.4,1.3,1.2,1.0,0.8,0.6,0.4,0.25,0.12,0.05,0.02],
    [0.3,1.8,3.5,4.5,4.8,4.4,3.6,2.4,1.3,1.0,1.1,1.1,1.0,0.9,0.7,0.5,0.35,0.2,0.1,0.05,0.02],
    [0.4,2.3,4.3,5.4,5.6,5.0,3.8,2.6,1.8,1.4,1.3,1.2,1.1,1.0,0.8,0.6,0.4,0.25,0.12,0.05,0.02]]
talin_ory = [
    [0.6,2.4,4.2,4.9,4.6,3.9,3.3,2.8,2.4,2.1,2.0,1.9,1.8,1.5,1.1,0.6,0.3,0.15,0.07,0.02,0],
    [0.5,2.2,4.0,4.9,4.7,4.1,3.4,2.9,2.5,2.2,2.1,2.0,1.9,1.6,1.1,0.6,0.3,0.15,0.07,0.02,0],
    [0.2,1.2,2.6,3.8,4.6,4.9,4.6,4.0,3.4,3.0,2.8,2.7,2.6,2.2,1.5,0.8,0.4,0.15,0.07,0.02,0],
    [0.1,0.8,2.0,3.0,3.5,3.6,3.4,3.0,2.7,2.5,2.4,2.4,2.4,2.2,1.6,0.9,0.4,0.15,0.07,0.02,0],
    [0.2,1.0,2.2,3.2,3.8,4.0,3.8,3.4,3.0,2.7,2.6,2.6,2.5,2.1,1.5,0.8,0.4,0.15,0.07,0.02,0]]
talin_trp = [
    [0.3,1.5,3.0,4.2,4.9,4.9,4.3,3.4,2.5,1.9,1.7,1.6,1.5,1.2,0.8,0.4,0.2,0.1,0.05,0.02,0],
    [0.2,1.6,3.6,5.4,6.2,5.3,3.8,2.8,2.1,1.9,2.0,2.3,2.6,2.4,1.6,0.8,0.35,0.15,0.07,0.02,0],
    [0.1,0.7,1.8,3.2,4.4,5.6,6.0,5.2,3.8,2.6,2.0,1.6,1.2,0.8,0.5,0.4,0.5,0.5,0.3,0.1,0.03],
    [0.1,0.5,1.4,3.0,5.2,7.2,7.3,5.0,2.6,1.8,1.7,1.6,1.4,1.0,0.6,0.3,0.15,0.07,0.03,0.01,0],
    [0.2,0.9,2.0,3.3,4.4,5.2,5.4,4.7,3.6,2.7,2.1,1.7,1.3,0.9,0.6,0.35,0.2,0.1,0.05,0.02,0]]
talin_zm = [
    [0.2,1.6,3.4,4.6,5.1,4.8,3.9,2.9,2.2,1.9,1.8,1.8,1.8,1.7,1.3,0.8,0.4,0.2,0.1,0.05,0],
    [0.5,2.5,3.7,4.1,4.0,3.6,3.0,2.5,2.2,2.1,2.3,2.5,2.5,2.1,1.4,0.7,0.3,0.15,0.07,0.02,0],
    [0.8,4.0,5.9,6.3,5.6,4.3,3.2,2.6,2.4,2.3,2.3,2.4,2.5,2.4,2.0,1.4,0.7,0.3,0.15,0.05,0],
    [0.1,0.5,1.2,2.2,3.2,4.0,4.7,5.1,5.2,5.1,4.6,3.2,1.8,1.0,0.6,0.35,0.2,0.1,0.05,0.02,0],
    [0.3,1.4,2.4,2.9,3.0,2.9,2.8,2.6,2.4,2.2,2.0,1.8,1.6,1.3,1.0,0.6,0.3,0.15,0.07,0.02,0]]

grid = [
    [yfp313_bfa, yfp313_bpa, yfp313_dmn, yfp313_endo, yfp313_n9, yfp313_ory, yfp313_trp, yfp313_zm],
    [aha2_bfa, aha2_bpa, aha2_dmn, aha2_endo, aha2_n9, aha2_ory, aha2_trp, aha2_zm],
    [er_bfa, er_bpa, er_dmn, er_endo, er_n9, er_ory, er_trp, er_zm],
    [map4_bfa, map4_bpa, map4_dmn, map4_endo, map4_n9, map4_ory, map4_trp, map4_zm],
    [rab_bfa, rab_bpa, rab_dmn, rab_endo, rab_n9, rab_ory, rab_trp, rab_zm],
    [talin_bfa, talin_bpa, talin_dmn, talin_endo, talin_n9, talin_ory, talin_trp, talin_zm],
]

fill_colors = ["#ff0000", "#99ff00", "#00ffff", "#9900ff", "#3359ff"]
draw_order = [0, 2, 3, 1, 4]

W, H = 1281, 954
fig = plt.figure(figsize=(W / 100, H / 100), dpi=100)

col_left = [150, 293, 437, 580, 724, 867, 1011, 1154]
col_w = [126, 126, 126, 126, 126, 126, 126, 123]
row_top = [49, 194, 339, 484, 630, 774]
ph = 128
title_x = [202, 346, 490, 641, 783, 931, 1066, 1218]

x = np.array(xgrid)
for r in range(6):
    for c in range(8):
        ax = fig.add_axes([col_left[c] / W, 1 - (row_top[r] + ph) / H, col_w[c] / W, ph / H])
        for k in draw_order:
            y = np.array(grid[r][c][k]) / 1000.0
            ax.fill_between(x, 0, y, color=fill_colors[k], alpha=0.21, lw=0)
            ax.plot(x, y, color="#111111", lw=1.1, alpha=0.8)
        ax.set_xlim(0, 5)
        ax.set_ylim(0, 0.01)
        ax.set_yticks([0, 0.005, 0.01])
        ax.set_xticks([0, 5])
        ax.tick_params(direction="in", length=3, width=0.8, color="#666666",
                       right=True, labelsize=11, labelcolor="#333333", pad=5)
        for s in ax.spines.values():
            s.set_color("#555555")
            s.set_linewidth(1.0)
        if c == 0:
            # the middle label sits under the row name in the original figure
            ax.set_yticklabels(["0", "", "0.01"], family="Liberation Sans")
        else:
            ax.set_yticklabels([])
        if r == 5:
            ax.set_xticklabels(["0", "5"], family="Liberation Sans")
        else:
            ax.set_xticklabels([])

for c in range(8):
    fig.text(title_x[c] / W, 1 - 28 / H, drugs[c], ha="center", va="center",
             fontsize=20, fontweight="bold", family="Lato")

for r in range(6):
    parts = lines[r]
    xs = [124] if len(parts) == 1 else [97, 124]
    for txt, xp in zip(parts, xs):
        long_name = len(txt) > 9
        fs = 17 if long_name else 19
        yc = row_top[r] + ph / 2 + (11 if long_name else 5)
        fig.text(xp / W, 1 - yc / H, txt, rotation=90, ha="center", va="center",
                 fontsize=fs, family="Lato")

fig.text(28 / W, 1 - 477 / H, "KS test statistic", rotation=90, ha="center", va="center",
         fontsize=25, family="Lato")
fig.text(715 / W, 1 - 936 / H, "DeltaF", ha="center", va="center", fontsize=22, family="Lato")

fig.savefig("out.png", dpi=100)
